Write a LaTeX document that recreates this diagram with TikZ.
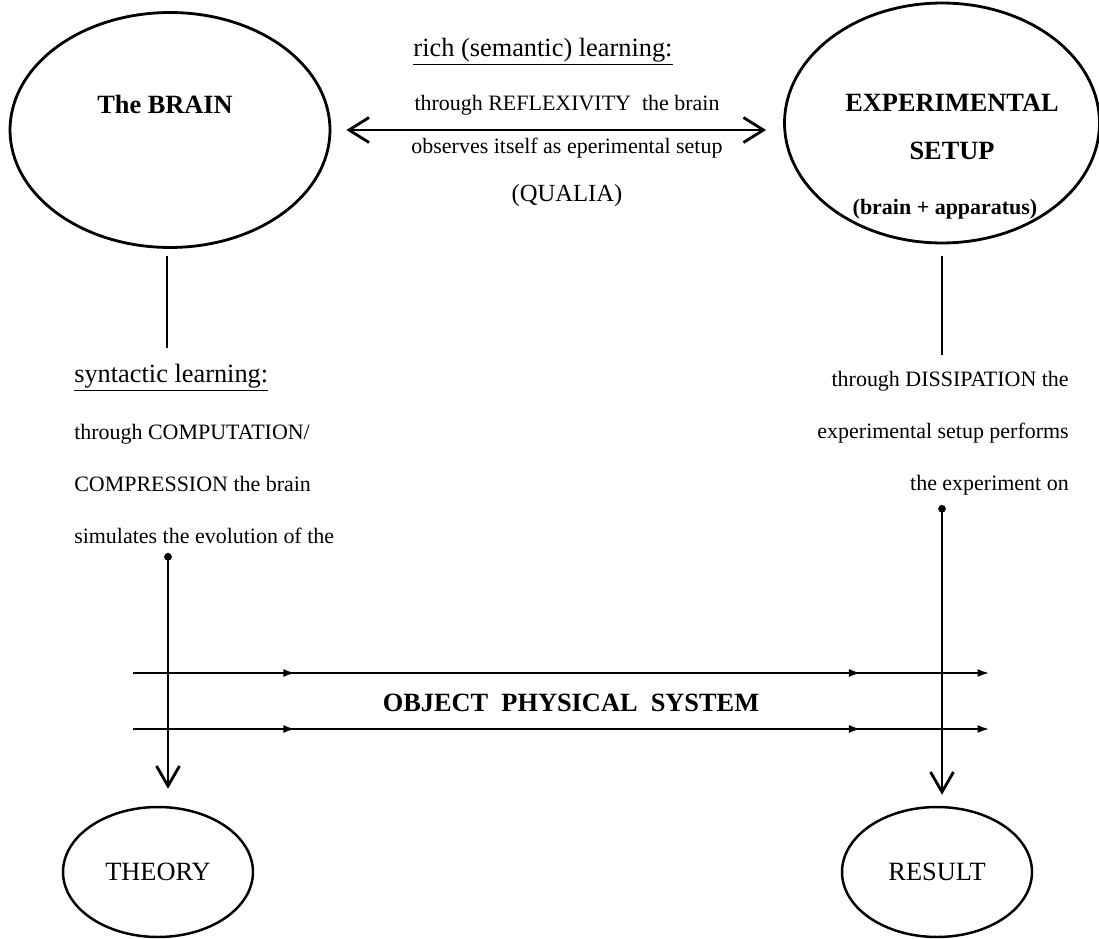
\documentclass[tikz,border=0pt]{standalone}
\usepackage{fontspec}
\setmainfont{Liberation Serif}
\usetikzlibrary{arrows.meta,shapes.geometric,decorations.markings}

\begin{document}
\begin{tikzpicture}[x=0.02cm,y=-0.02cm,line width=1.6pt,bigell/.style={draw,ellipse,line width=1.6pt,inner sep=0pt},smallell/.style={draw,ellipse,line width=1.4pt,minimum width=3.8cm,minimum height=2.6cm,inner sep=0pt,font=\fontsize{15}{18}\selectfont},title/.style={font=\fontsize{15}{18}\selectfont\bfseries},head/.style={font=\fontsize{15}{18}\selectfont},body/.style={font=\fontsize{12.5}{29.5}\selectfont},arr/.style={{Circle[length=1.5mm]}-{Straight Barb[length=4mm,width=4.6mm]}},dbl/.style={{Straight Barb[length=4mm,width=5mm]}-{Straight Barb[length=4mm,width=5mm]}},flow/.style={-{Latex[length=2.5mm,width=1.6mm]},postaction={decorate},decoration={markings,mark=at position 0.19 with {\arrow{Latex[length=2.5mm,width=1.6mm]}},mark=at position 0.85 with {\arrow{Latex[length=2.5mm,width=1.6mm]}}}}]
\useasboundingbox (0,0) rectangle (1099,939);
\node[bigell,minimum width=6.4cm,minimum height=4.7cm] (brain) at (170,130){};
\node[title] (brainlbl) at (165,104){The BRAIN};
\node[bigell,minimum width=6.3cm,minimum height=4.8cm] (setup) at (942,123){};
\node[title,align=center,font=\fontsize{15}{27}\selectfont\bfseries] (setuplbl) at (952,127){EXPERIMENTAL\\SETUP};
\node[font=\fontsize{12.5}{15}\selectfont\bfseries] (apparatus) at (945,209){(brain + apparatus)};
\node[head] (richhd) at (543,52){\underline{rich (semantic) learning:}};
\node[body,align=center,font=\fontsize{12.5}{24.5}\selectfont] (reflex) at (567,127){through REFLEXIVITY\ \ the brain\\observes itself as eperimental setup};
\node[font=\fontsize{14}{17}\selectfont] (qualia) at (567,196){(QUALIA)};
\node[head,anchor=west] (synhd) at (67,378){\underline{syntactic learning:}};
\node[body,align=left,anchor=west] (synbody) at (67,484){through COMPUTATION/\\COMPRESSION the brain\\simulates the evolution of the};
\node[body,align=right,anchor=east] (dissip) at (1076,433){through DISSIPATION the\\experimental setup performs\\the experiment on};
\node[smallell] (theory) at (158,872){THEORY};
\node[smallell] (result) at (937,872){RESULT};
\node[title] (objsys) at (571,703){OBJECT\ \ PHYSICAL\ \ SYSTEM};
\coordinate (brainstop) at (167,348);\coordinate (thtop) at (168,553);\coordinate (setupstop) at (942,355);\coordinate (restop) at (942,505);
\coordinate (topl) at (133,673);\coordinate (topr) at (990,673);\coordinate (botl) at (133,729);\coordinate (botr) at (990,729);
\draw[dbl,shorten <=0.3cm,shorten >=0.34cm] (brain.east) -- (brain.east -| setup.west);
\draw[shorten <=0.14cm] (brain.south -| brainstop) -- (brainstop);\draw[shorten <=0.24cm] (setup.south) -- (setupstop);
\draw[arr,shorten >=0.34cm] (thtop) -- (thtop |- theory.north);\draw[arr,shorten >=0.22cm] (restop) -- (restop |- result.north);
\draw[flow] (topl) -- (topr);\draw[flow] (botl) -- (botr);
\end{tikzpicture}
\end{document}
